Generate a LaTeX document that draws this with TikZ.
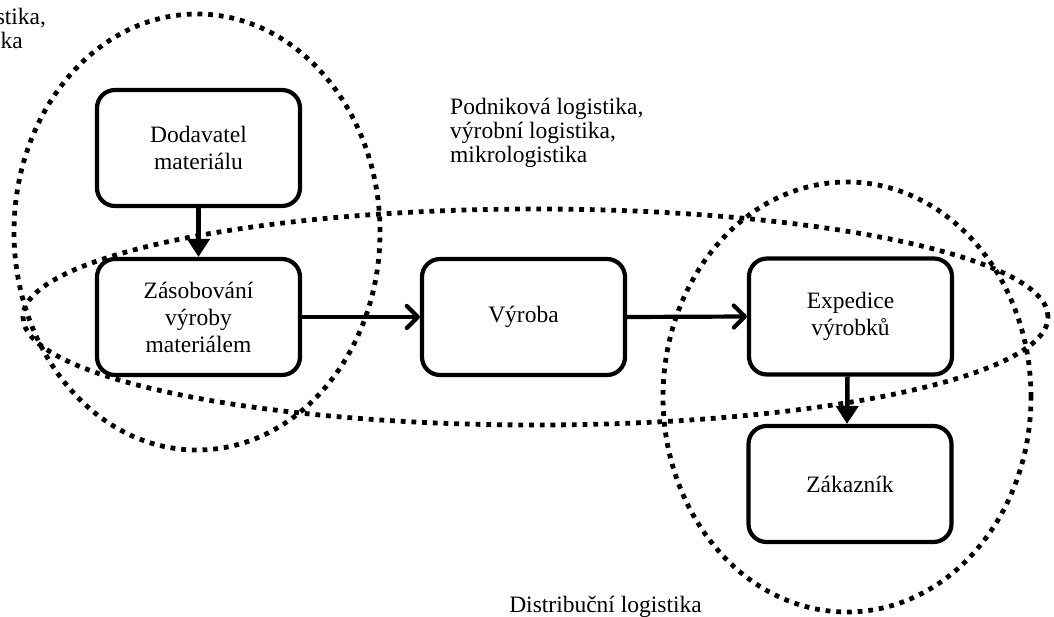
\documentclass[tikz,border=0pt]{standalone}
\usepackage{fontspec}
\setmainfont{Liberation Serif}
\usetikzlibrary{arrows.meta}
\begin{document}
\begin{tikzpicture}[x=1pt,y=-1pt,
  stage/.style={draw, line width=4.2pt, rounded corners=18pt, minimum width=203pt,
    minimum height=116pt, align=center, inner sep=0pt, fill=white,
    font=\fontsize{23.5}{27}\selectfont},
  note/.style={inner sep=0pt, font=\fontsize{23.5}{24}\selectfont},
  flow/.style={line width=4.2pt, -{Straight Barb[length=11pt,width=22pt,round]}},
  drop/.style={line width=4.5pt, -{Triangle[length=18pt,width=22pt]}},
  zone/.style={line width=4.8pt, dash pattern=on 4.8pt off 5.9pt}]
\useasboundingbox (0,0) rectangle (1054,616);

% process stages
\node[stage] (dod) at (198.5,148) {Dodavatel\\materiálu};
\node[stage] (zas) at (198.5,317) {Zásobování\\výroby\\materiálem};
\node[stage] (vyr) at (523.5,317) {Výroba};
\node[stage] (exp) at (850.5,316.5) {Expedice\\výrobků};
\node[stage] (zak) at (850,484) {Zákazník};

% material flow
\draw[drop] (dod.south) -- (zas.north);
\draw[flow] (zas.east) -- (vyr.west);
\draw[flow] (vyr.east) -- (exp.west);
\draw[drop] ([xshift=-3pt]exp.south) -- ([xshift=-3pt]zak.north);

% logistics areas
\draw[zone] (197,232) ellipse [x radius=183pt, y radius=218pt];
\draw[zone] (535.5,317) ellipse [x radius=512.5pt, y radius=108pt];
\draw[zone] (847,397) ellipse [x radius=184pt, y radius=215pt];

% area labels
\node[note, align=center, anchor=north] (zlog) at (-54.5,8) {Zásobovací logistika,\\nákupní logistika\kern8pt};
\node[note, align=left, anchor=north west] (plog) at (450,97.5) {Podniková logistika,\\výrobní logistika,\\mikrologistika};
\node[note, anchor=base east] (dlog) at (702,612) {Distribuční logistika};
\end{tikzpicture}
\end{document}
